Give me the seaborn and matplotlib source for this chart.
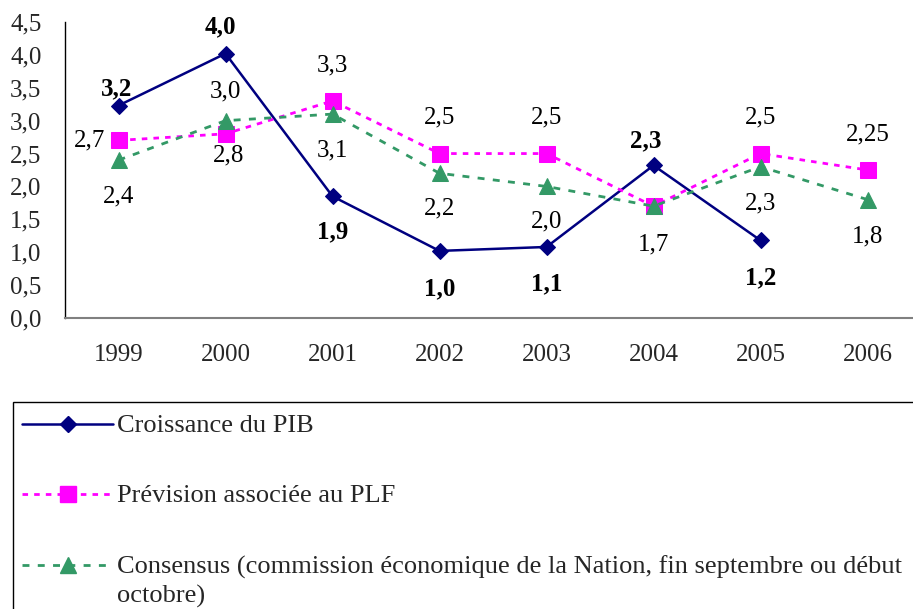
import numpy as np
import matplotlib
matplotlib.use("Agg")
import matplotlib.pyplot as plt
from matplotlib.lines import Line2D
from matplotlib.patches import Rectangle
from matplotlib.ticker import FuncFormatter, FixedLocator
import seaborn as sns

# data
years = ["1999", "2000", "2001", "2002", "2003", "2004", "2005", "2006"]
pib = [3.23, 4.02, 1.85, 1.02, 1.08, 2.32, 1.18]
pib_labels = ["3,2", "4,0", "1,9", "1,0", "1,1", "2,3", "1,2"]
plf = [2.7, 2.8, 3.3, 2.5, 2.5, 1.7, 2.5, 2.25]
plf_labels = ["2,7", "2,8", "3,3", "2,5", "2,5", "", "2,5", "2,25"]
consensus = [2.4, 3.0, 3.1, 2.2, 2.0, 1.7, 2.3, 1.8]
consensus_labels = ["2,4", "3,0", "3,1", "2,2", "2,0", "1,7", "2,3", "1,8"]

series_names = ["Croissance du PIB",
                "Prévision associée au PLF",
                "Consensus (commission économique de la Nation, fin septembre ou début\noctobre)"]

# label offsets in pixels (dx, dy)
pib_off = [(-2, 17), (-5, 27), (0, -36), (0, -38), (0, -37), (-8, 25), (0, -37)]
plf_off = [(-29, 0), (3, -22), (0, 35), (0, 36), (0, 36), (0, 0), (0, 36), (0, 36)]
cons_off = [(0, -36), (0, 29), (0, -36), (0, -35), (0, -35), (0, -38), (0, -37), (0, -37)]

sns.set_style("white")
plt.rcParams['font.family'] = ['Liberation Serif', 'DejaVu Serif']
FS = 18

W, H = 913, 609
fig = plt.figure(figsize=(W / 100, H / 100), dpi=100)
ax = fig.add_axes([65 / W, 1 - 318 / H, (W - 65) / W, 296 / H])

navy = "#000080"
magenta = "#FF00FF"
green = "#339966"
styles = [
    dict(color=navy, lw=1.8, linestyle="-", marker="D", markersize=8),
    dict(color=magenta, lw=2.0, linestyle=(0, (2, 2.2)), marker="s", markersize=11),
    dict(color=green, lw=2.0, linestyle=(0, (2.5, 3)), marker="^", markersize=11),
]

x_all = np.arange(len(years))
for vals, st in zip([pib, plf, consensus], styles):
    sns.lineplot(x=x_all[:len(vals)], y=vals, ax=ax, sort=False,
                 markeredgecolor=st["color"], **st)


def put_labels(xs, ys, labels, offs, bold=False):
    for xv, yv, lab, (dx, dy) in zip(xs, ys, labels, offs):
        if not lab:
            continue
        ax.annotate(lab, (xv, yv), xytext=(dx, dy), textcoords="offset pixels",
                    ha="center", va="center", fontsize=FS,
                    fontweight="bold" if bold else "normal", color="black")


put_labels(x_all, pib, pib_labels, pib_off, bold=True)
put_labels(x_all, plf, plf_labels, plf_off)
put_labels(x_all, consensus, consensus_labels, cons_off)

ax.set_ylim(0, 4.5)
ax.set_xlim(-0.5, -0.5 + (W - 65) / 107)
ax.set_yticks(np.arange(0, 4.51, 0.5))
ax.yaxis.set_major_formatter(FuncFormatter(lambda v, p: f"{v:.1f}".replace(".", ",")))
ax.set_xticks(x_all)
ax.set_xticklabels(years)
ax.xaxis.set_minor_locator(FixedLocator(np.arange(-0.5, 8, 1.0)))
ax.tick_params(axis="x", which="major", length=0, pad=19, labelsize=FS)
ax.tick_params(axis="x", which="minor", length=8, width=1, color="black", direction="out")
ax.tick_params(axis="y", length=7, width=1, color="black", direction="out", pad=10, labelsize=FS)
ax.set_xlabel("")
ax.set_ylabel("")

for s in ["top", "right"]:
    ax.spines[s].set_visible(False)
ax.spines["left"].set_color("black")
ax.spines["left"].set_linewidth(1)
ax.spines["bottom"].set_color("#808080")
ax.spines["bottom"].set_linewidth(1.5)

# legend box below the plot, entries drawn by hand
fig.patches.append(Rectangle((13 / W, -0.05), 1.0, (1 - 402 / H) + 0.05,
                             transform=fig.transFigure, fill=False,
                             edgecolor="black", lw=1))
row_y = [424, 494, 565]
for name, st, ry in zip(series_names, styles, row_y):
    yf = 1 - ry / H
    fig.add_artist(Line2D([22 / W, 113 / W], [yf, yf], transform=fig.transFigure,
                          color=st["color"], lw=st["lw"], linestyle=st["linestyle"]))
    fig.add_artist(Line2D([68 / W], [yf], transform=fig.transFigure, color=st["color"],
                          marker=st["marker"], markersize=st["markersize"], linestyle="none"))
    fig.text(117 / W, yf + 9 / H, name, ha="left", va="top", fontsize=19,
             linespacing=1.32)

fig.savefig("out.png", dpi=100)
